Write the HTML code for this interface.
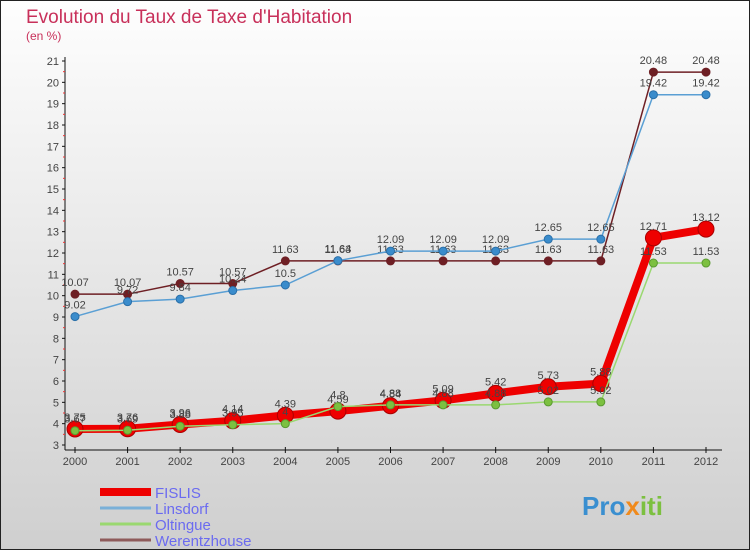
<!DOCTYPE html>
<html><head><meta charset="utf-8"><style>
html,body{margin:0;padding:0;width:750px;height:550px;overflow:hidden}
svg{display:block;font-family:"Liberation Sans",sans-serif}
</style></head><body>
<svg id="c" width="750" height="550">
<defs><linearGradient id="bg" x1="0" y1="0" x2="0" y2="1"><stop offset="0" stop-color="#fefefe"/><stop offset="1" stop-color="#cfcfcf"/></linearGradient></defs>
<rect x="0.5" y="0.5" width="749" height="549" fill="url(#bg)" stroke="#222"/>
<text x="26" y="23" font-size="19" fill="#c8305a">Evolution du Taux de Taxe d'Habitation</text>
<text x="26" y="40" font-size="12" fill="#c8305a">(en %)</text>
<g id="axes"></g><g id="series"></g><g id="legend"></g>
<text x="582" y="515" font-size="26" font-weight="bold" fill="#3a8fd0">Pro<tspan fill="#f08a1c">x</tspan><tspan fill="#7cc040">iti</tspan></text>
</svg>
<script>
const years=[2000,2001,2002,2003,2004,2005,2006,2007,2008,2009,2010,2011,2012];
const yTicks=[3,4,5,6,7,8,9,10,11,12,13,14,15,16,17,18,19,20,21];
const fislis=[3.75,3.76,3.96,4.14,4.39,4.59,4.84,5.09,5.42,5.73,5.88,12.71,13.12];
const linsdorf=[9.02,9.72,9.84,10.24,10.5,11.64,12.09,12.09,12.09,12.65,12.65,19.42,19.42];
const oltingue=[3.67,3.69,3.88,3.95,4,4.8,4.88,4.88,4.88,5.02,5.02,11.53,11.53];
const werentz=[10.07,10.07,10.57,10.57,11.63,11.63,11.63,11.63,11.63,11.63,11.63,20.48,20.48];
const names=["FISLIS","Linsdorf","Oltingue","Werentzhouse"];
const NS="http://www.w3.org/2000/svg";
const X=i=>75+i*(706-75)/(years.length-1);
const Y=v=>445-(v-3)*(445-61)/18;
function mk(t,a,p){const e=document.createElementNS(NS,t);for(const k in a)e.setAttribute(k,a[k]);p.appendChild(e);return e;}
const ax=document.getElementById('axes');
let l=mk('line',{x1:65,y1:57,x2:65,y2:450,stroke:'#111'},ax);


l=mk('line',{x1:65,y1:450,x2:722,y2:450,stroke:'#111'},ax);


yTicks.forEach(v=>{
 mk('line',{x1:62,y1:Y(v),x2:65,y2:Y(v),stroke:'#111'},ax);
 if(v<21)mk('line',{x1:63,y1:Y(v+0.5),x2:65,y2:Y(v+0.5),stroke:'#e33'},ax);
 const t=mk('text',{x:59,y:Y(v)+4,'font-size':11,fill:'#444','text-anchor':'end'},ax);t.textContent=v;
 
 
});
years.forEach((y,i)=>{
 mk('line',{x1:X(i),y1:447,x2:X(i),y2:453,stroke:'#111'},ax);
 const t=mk('text',{x:X(i),y:465,'font-size':11,fill:'#444','text-anchor':'middle'},ax);t.textContent=y;
 
 
});
const sg=document.getElementById('series');
const defs=[[werentz,'#6e1f24','#6e1f24',1.5,4,'#6e1f24',3],[linsdorf,'#5a9fd4','#3a8ccc',1.5,4,'#2a6fa8',1],[fislis,'#ee0000','#ee0000',8,8,'#aa0000',0],[oltingue,'#9ad870','#7cc040',1.5,4,'#5a9a30',2]];
defs.forEach(d=>{
 const g=mk('g',{},sg);
 
 
 const p=mk('polyline',{points:d[0].map((v,i)=>X(i)+','+Y(v)).join(' '),fill:'none',stroke:d[1],'stroke-width':d[3]},g);
 
 
 d[0].forEach((v,i)=>{
  const c=mk('circle',{cx:X(i),cy:Y(v),r:d[4],fill:d[2],stroke:d[5],'stroke-width':1},g);
  
  
  const t=mk('text',{x:X(i),y:Y(v)-8,'font-size':11,fill:'#444','text-anchor':'middle'},g);
  t.textContent=v;
  
  
 });
});
const lg=document.getElementById('legend');
const lc=['#ee0000','#7ab0d8','#9ad870','#8e5a5a'],lw=[8,3,3,3];
names.forEach((n,i)=>{
 const yy=492+i*16;
 const g=mk('g',{},lg);
 
 
 mk('line',{x1:100,y1:yy,x2:151,y2:yy,stroke:lc[i],'stroke-width':lw[i]},g);
 const t=mk('text',{x:155,y:yy+6,'font-size':15,fill:'#6b6bf0'},g);t.textContent=n;
});
</script>
</body></html>
